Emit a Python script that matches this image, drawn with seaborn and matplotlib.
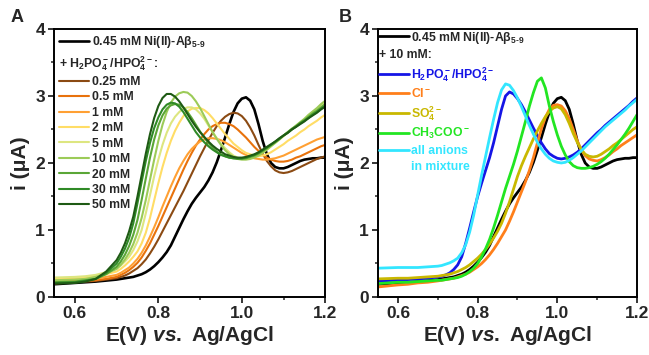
import matplotlib
matplotlib.use("Agg")
import matplotlib.pyplot as plt
from matplotlib.lines import Line2D
from matplotlib.ticker import MultipleLocator
import seaborn as sns

# potential (V vs Ag/AgCl), shared by every curve
E = [0.55, 0.6, 0.625, 0.65, 0.675,
     0.70, 0.71, 0.72, 0.73, 0.74, 0.75, 0.76, 0.77, 0.78, 0.79,
     0.80, 0.81, 0.82, 0.83, 0.84, 0.85, 0.86, 0.87, 0.88, 0.89,
     0.90, 0.91, 0.92, 0.93, 0.94, 0.95, 0.96, 0.97, 0.98, 0.99,
     1.00, 1.01, 1.02, 1.03, 1.04, 1.05, 1.06, 1.07, 1.08, 1.09,
     1.10, 1.11, 1.12, 1.13, 1.14, 1.15, 1.16, 1.17, 1.18, 1.19, 1.20]

# current (uA), Ni(II)-Abeta alone
ni_abeta = [0.19, 0.21, 0.22, 0.23, 0.245,
            0.26, 0.27, 0.28, 0.29, 0.30, 0.32, 0.34, 0.37, 0.41, 0.46,
            0.52, 0.59, 0.67, 0.77, 0.90, 1.03, 1.16, 1.28, 1.39, 1.48,
            1.56, 1.64, 1.74, 1.86, 2.01, 2.19, 2.38, 2.58, 2.76, 2.89,
            2.96, 2.98, 2.93, 2.80, 2.58, 2.33, 2.13, 2.00, 1.94, 1.92,
            1.92, 1.94, 1.97, 2.00, 2.03, 2.05, 2.06, 2.07, 2.07, 2.08, 2.08]

# panel A: phosphate titration
conc_labels = ["0.25 mM", "0.5 mM", "1 mM", "2 mM", "5 mM", "10 mM", "20 mM", "30 mM", "50 mM"]
conc_colors = ["#8B4A13", "#E8720C", "#FFA033", "#FFDD66", "#DDE680", "#9CCB58", "#5AA636", "#2F8A26", "#1E5A14"]
p_025 = [0.20, 0.22, 0.23, 0.24, 0.26,
         0.28, 0.30, 0.32, 0.35, 0.39, 0.43, 0.49, 0.56, 0.65, 0.75,
         0.86, 0.98, 1.10, 1.22, 1.34, 1.46, 1.58, 1.71, 1.84, 1.97,
         2.10, 2.22, 2.34, 2.45, 2.55, 2.63, 2.69, 2.73, 2.75, 2.74,
         2.70, 2.63, 2.53, 2.41, 2.27, 2.14, 2.03, 1.95, 1.89, 1.86,
         1.85, 1.86, 1.88, 1.91, 1.94, 1.97, 2.00, 2.03, 2.06, 2.08, 2.10]
p_05 = [0.22, 0.23, 0.24, 0.25, 0.27,
        0.30, 0.33, 0.36, 0.40, 0.45, 0.51, 0.59, 0.69, 0.80, 0.93,
        1.06, 1.20, 1.34, 1.48, 1.62, 1.76, 1.90, 2.03, 2.15, 2.26,
        2.35, 2.43, 2.50, 2.55, 2.58, 2.60, 2.60, 2.58, 2.55, 2.50,
        2.44, 2.38, 2.31, 2.24, 2.18, 2.12, 2.08, 2.05, 2.03, 2.02,
        2.02, 2.03, 2.05, 2.08, 2.10, 2.13, 2.16, 2.19, 2.22, 2.25, 2.27]
p_1 = [0.24, 0.25, 0.26, 0.27, 0.30,
       0.33, 0.36, 0.40, 0.44, 0.50, 0.57, 0.66, 0.77, 0.90, 1.04,
       1.19, 1.35, 1.50, 1.65, 1.79, 1.92, 2.03, 2.13, 2.21, 2.27,
       2.32, 2.35, 2.37, 2.37, 2.36, 2.34, 2.31, 2.27, 2.23, 2.19,
       2.15, 2.12, 2.09, 2.07, 2.06, 2.05, 2.05, 2.06, 2.07, 2.09,
       2.11, 2.14, 2.17, 2.20, 2.23, 2.26, 2.29, 2.32, 2.35, 2.37, 2.39]
p_2 = [0.27, 0.28, 0.29, 0.31, 0.34,
       0.38, 0.42, 0.47, 0.53, 0.60, 0.68, 0.80, 0.96, 1.18, 1.44,
       1.70, 1.94, 2.15, 2.33, 2.48, 2.60, 2.70, 2.77, 2.81, 2.82,
       2.82, 2.79, 2.74, 2.67, 2.59, 2.51, 2.43, 2.36, 2.29, 2.24,
       2.19, 2.15, 2.13, 2.11, 2.10, 2.11, 2.13, 2.16, 2.20, 2.24,
       2.28, 2.33, 2.37, 2.41, 2.46, 2.50, 2.55, 2.59, 2.63, 2.68, 2.72]
p_5 = [0.29, 0.30, 0.31, 0.33, 0.37,
       0.42, 0.47, 0.53, 0.60, 0.70, 0.83, 1.00, 1.25, 1.52, 1.80,
       2.05, 2.27, 2.45, 2.59, 2.69, 2.76, 2.81, 2.83, 2.83, 2.80,
       2.74, 2.66, 2.56, 2.46, 2.37, 2.29, 2.22, 2.16, 2.11, 2.08,
       2.06, 2.06, 2.07, 2.09, 2.12, 2.16, 2.20, 2.25, 2.30, 2.35,
       2.40, 2.45, 2.50, 2.55, 2.60, 2.65, 2.70, 2.75, 2.80, 2.86, 2.92]
p_10 = [0.25, 0.26, 0.27, 0.30, 0.35,
        0.42, 0.48, 0.56, 0.66, 0.79, 0.96, 1.18, 1.45, 1.75, 2.05,
        2.33, 2.57, 2.76, 2.90, 2.99, 3.04, 3.06, 3.05, 3.00, 2.92,
        2.82, 2.70, 2.58, 2.46, 2.36, 2.27, 2.19, 2.13, 2.09, 2.06,
        2.05, 2.05, 2.06, 2.08, 2.11, 2.15, 2.20, 2.25, 2.30, 2.35,
        2.41, 2.46, 2.51, 2.56, 2.61, 2.66, 2.72, 2.77, 2.82, 2.88, 2.93]
p_20 = [0.22, 0.23, 0.25, 0.27, 0.34,
        0.45, 0.53, 0.63, 0.76, 0.93, 1.15, 1.45, 1.77, 2.08, 2.35,
        2.56, 2.71, 2.81, 2.86, 2.88, 2.87, 2.83, 2.76, 2.67, 2.57,
        2.47, 2.38, 2.30, 2.23, 2.17, 2.13, 2.10, 2.08, 2.07, 2.06,
        2.06, 2.07, 2.09, 2.11, 2.14, 2.18, 2.22, 2.27, 2.31, 2.36,
        2.41, 2.46, 2.51, 2.55, 2.60, 2.64, 2.69, 2.74, 2.78, 2.83, 2.88]
p_30 = [0.21, 0.22, 0.24, 0.27, 0.36,
        0.50, 0.60, 0.72, 0.88, 1.10, 1.40, 1.72, 2.03, 2.30, 2.52,
        2.68, 2.80, 2.87, 2.90, 2.89, 2.84, 2.76, 2.66, 2.56, 2.46,
        2.38, 2.31, 2.25, 2.20, 2.16, 2.12, 2.10, 2.08, 2.07, 2.07,
        2.07, 2.08, 2.10, 2.12, 2.15, 2.19, 2.23, 2.27, 2.32, 2.36,
        2.41, 2.45, 2.50, 2.54, 2.59, 2.63, 2.67, 2.72, 2.76, 2.81, 2.85]
p_50 = [0.20, 0.21, 0.23, 0.27, 0.38,
        0.55, 0.66, 0.80, 0.98, 1.20, 1.50, 1.82, 2.14, 2.43, 2.67,
        2.85, 2.97, 3.03, 3.03, 2.99, 2.92, 2.83, 2.73, 2.63, 2.54,
        2.46, 2.39, 2.32, 2.26, 2.21, 2.17, 2.13, 2.11, 2.09, 2.08,
        2.08, 2.09, 2.11, 2.13, 2.16, 2.20, 2.24, 2.28, 2.32, 2.37,
        2.41, 2.45, 2.50, 2.54, 2.58, 2.62, 2.67, 2.71, 2.75, 2.80, 2.84]
phosphate = [p_025, p_05, p_1, p_2, p_5, p_10, p_20, p_30, p_50]

# panel B: 10 mM of different anions
anion_labels = [r"H$_2$PO$_4^-$/HPO$_4^{2-}$", r"Cl$^-$", r"SO$_4^{2-}$", r"CH$_3$COO$^-$", "all anions"]
anion_colors = ["#1515E6", "#FF7F1A", "#C9B800", "#22E622", "#33E6FF"]
a_phos = [0.24, 0.25, 0.26, 0.27, 0.28,
          0.30, 0.31, 0.33, 0.36, 0.41, 0.48, 0.60, 0.80, 1.03, 1.27,
          1.50, 1.70, 1.89, 2.08, 2.30, 2.55, 2.80, 3.00, 3.06, 3.03,
          2.96, 2.87, 2.76, 2.64, 2.52, 2.41, 2.30, 2.21, 2.14, 2.10,
          2.07, 2.06, 2.07, 2.09, 2.12, 2.16, 2.21, 2.27, 2.33, 2.39,
          2.45, 2.50, 2.56, 2.61, 2.66, 2.71, 2.76, 2.81, 2.86, 2.92, 2.97]
a_cl = [0.15, 0.18, 0.19, 0.21, 0.22,
        0.24, 0.25, 0.26, 0.27, 0.28, 0.30, 0.32, 0.34, 0.37, 0.41,
        0.45, 0.50, 0.56, 0.63, 0.71, 0.80, 0.90, 1.00, 1.13, 1.27,
        1.42, 1.57, 1.72, 1.89, 2.08, 2.30, 2.51, 2.68, 2.80, 2.86,
        2.87, 2.85, 2.78, 2.66, 2.50, 2.33, 2.20, 2.11, 2.06, 2.04,
        2.03, 2.05, 2.08, 2.12, 2.17, 2.21, 2.26, 2.30, 2.34, 2.38, 2.42]
a_so4 = [0.27, 0.28, 0.28, 0.29, 0.30,
         0.31, 0.32, 0.33, 0.34, 0.36, 0.38, 0.41, 0.44, 0.48, 0.53,
         0.58, 0.64, 0.71, 0.79, 0.88, 0.98, 1.10, 1.25, 1.42, 1.61,
         1.80, 1.96, 2.10, 2.23, 2.36, 2.48, 2.59, 2.69, 2.77, 2.82,
         2.84, 2.81, 2.72, 2.59, 2.44, 2.31, 2.20, 2.13, 2.10, 2.09,
         2.10, 2.13, 2.17, 2.21, 2.26, 2.30, 2.35, 2.40, 2.45, 2.50, 2.54]
a_ac = [0.20, 0.22, 0.22, 0.23, 0.24,
        0.25, 0.25, 0.26, 0.27, 0.28, 0.29, 0.31, 0.34, 0.38, 0.43,
        0.50, 0.60, 0.72, 0.86, 1.03, 1.22, 1.42, 1.62, 1.80, 1.98,
        2.18, 2.40, 2.62, 2.85, 3.05, 3.22, 3.27, 3.12, 2.85, 2.62,
        2.42, 2.25, 2.12, 2.02, 1.96, 1.93, 1.92, 1.92, 1.93, 1.95,
        1.98, 2.02, 2.07, 2.13, 2.20, 2.27, 2.35, 2.43, 2.52, 2.62, 2.72]
a_mix = [0.43, 0.44, 0.44, 0.44, 0.45,
         0.46, 0.47, 0.49, 0.51, 0.54, 0.58, 0.66, 0.78, 0.97, 1.22,
         1.52, 1.82, 2.10, 2.38, 2.65, 2.90, 3.09, 3.18, 3.16, 3.08,
         2.97, 2.84, 2.70, 2.56, 2.43, 2.31, 2.21, 2.13, 2.07, 2.03,
         2.01, 2.00, 2.01, 2.04, 2.08, 2.13, 2.18, 2.24, 2.30, 2.36,
         2.42, 2.48, 2.54, 2.59, 2.64, 2.69, 2.74, 2.79, 2.85, 2.90, 2.95]
anions = [a_phos, a_cl, a_so4, a_ac, a_mix]

for s in [ni_abeta] + phosphate + anions:
    assert len(s) == len(E)

sns.set_style("ticks")
plt.rcParams['font.family'] = ['Liberation Sans', 'DejaVu Sans']
plt.rcParams['font.weight'] = 'bold'
plt.rcParams['mathtext.fontset'] = 'custom'
plt.rcParams['mathtext.rm'] = 'Liberation Sans:bold'
plt.rcParams['mathtext.bf'] = 'Liberation Sans:bold'
plt.rcParams['mathtext.it'] = 'Liberation Sans:bold:italic'
plt.rcParams['mathtext.default'] = 'bf'

fig = plt.figure(figsize=(6.49, 3.55), dpi=100)
axA = fig.add_axes([0.0832, 0.1634, 0.418, 0.755])
axB = fig.add_axes([0.5825, 0.1634, 0.399, 0.755])

ni_label = r"0.45 mM Ni(II)-A$\beta_{5\text{-}9}$"
leg_font = {'weight': 'bold', 'size': 8.8}
h_len, h_pad = 2.45, 0.2


def style_axis(ax):
    ax.set_xlim(0.55, 1.2)
    ax.set_ylim(0, 4)
    ax.xaxis.set_major_locator(MultipleLocator(0.2))
    ax.xaxis.set_minor_locator(MultipleLocator(0.1))
    ax.yaxis.set_major_locator(MultipleLocator(1))
    ax.yaxis.set_minor_locator(MultipleLocator(0.5))
    ax.tick_params(which='major', direction='out', length=4, width=1.3, labelsize=12.5, pad=2.5)
    ax.tick_params(which='minor', direction='out', length=2.5, width=1.1)
    for s in ax.spines.values():
        s.set_linewidth(1.4)
        s.set_color('black')
    ax.set_xlabel(r"E(V) $\mathit{vs.}$ Ag/AgCl", fontsize=15, fontweight='bold', labelpad=2)
    ax.set_ylabel("i (\u03bcA)", fontsize=15, fontweight='bold', labelpad=4)


def make_legend(ax, handles, labels, **kw):
    leg = ax.legend(handles, labels, loc='upper left', bbox_to_anchor=(0.0, 1.0), frameon=False,
                    prop=leg_font, handlelength=h_len, handletextpad=h_pad, **kw)
    # the header row ("+ ...:") has no line; pull its text back to the handle column
    shift = (h_len + h_pad) * leg_font['size'] * fig.dpi / 72
    leg.get_texts()[1].set_x(-shift)
    return leg


# ---- panel A
sns.lineplot(x=E, y=ni_abeta, color='black', lw=1.9, ax=axA, estimator=None, sort=False)
for vals, c in zip(phosphate, conc_colors):
    sns.lineplot(x=E, y=vals, color=c, lw=1.5, ax=axA, estimator=None, sort=False)
style_axis(axA)

hA = [Line2D([], [], color='black', lw=1.9), Line2D([], [], color='none')]
hA += [Line2D([], [], color=c, lw=1.5) for c in conc_colors]
make_legend(axA, hA, [ni_label, r"+ H$_2$PO$_4^-$/HPO$_4^{2-}$:"] + conc_labels,
            labelspacing=0.28, borderaxespad=0.15, borderpad=0.3)

# ---- panel B
sns.lineplot(x=E, y=ni_abeta, color='black', lw=2.0, ax=axB, estimator=None, sort=False)
for vals, c in zip(anions, anion_colors):
    sns.lineplot(x=E, y=vals, color=c, lw=2.0, ax=axB, estimator=None, sort=False)
style_axis(axB)

hB = [Line2D([], [], color='black', lw=2.0), Line2D([], [], color='none')]
hB += [Line2D([], [], color=c, lw=2.0) for c in anion_colors]
hB += [Line2D([], [], color='none')]
legB = make_legend(axB, hB, [ni_label, "+ 10 mM:"] + anion_labels + ["in mixture"],
                   labelspacing=0.3, borderaxespad=0.0, borderpad=0.05)
for t, c in zip(legB.get_texts()[2:], anion_colors + [anion_colors[-1]]):
    t.set_color(c)

fig.text(0.026, 0.95, "A", fontsize=13, fontweight='bold', ha='center', va='center')
fig.text(0.532, 0.95, "B", fontsize=13, fontweight='bold', ha='center', va='center')

fig.savefig("out.png", dpi=100)
